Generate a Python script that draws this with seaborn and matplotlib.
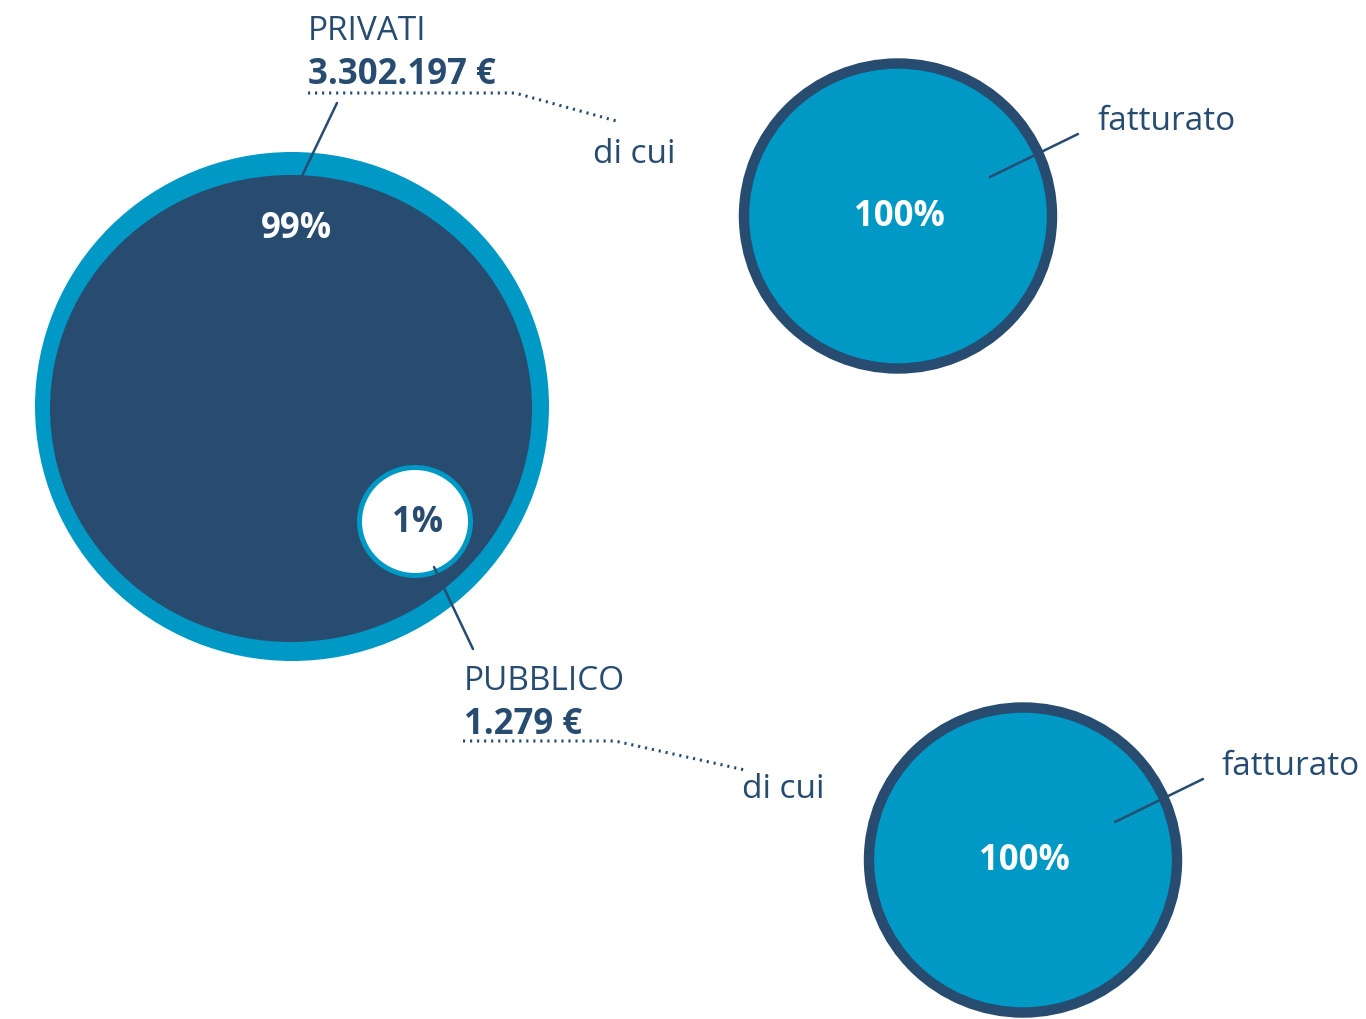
import matplotlib
matplotlib.use('Agg')
import matplotlib.pyplot as plt
from matplotlib.patches import Ellipse
import seaborn as sns

# data read from the infographic
segments = ["PRIVATI", "PUBBLICO"]
amounts = ["3.302.197 €", "1.279 €"]
shares = [99, 1]                 # share of total revenue
fatturato_shares = [100, 100]    # "di cui fatturato" per segment
sub_label = "di cui"
inner_label = "fatturato"

DARK = "#274C70"
LIGHT = "#0099C6"

sns.set_theme(style="white")
plt.rcParams['font.family'] = ['Open Sans', 'DejaVu Sans']

fig = plt.figure(figsize=(13.66, 10.19), dpi=100)
ax = fig.add_axes([0, 0, 1, 1])
ax.set_xlim(0, 1366)
ax.set_ylim(1019, 0)
ax.axis('off')

# big circle: total, split private / public
ax.add_patch(Ellipse((292, 406.5), 514, 509, facecolor=LIGHT, edgecolor='none'))
ax.add_patch(Ellipse((291, 408.5), 482, 467, facecolor=DARK, edgecolor='none'))
ax.add_patch(Ellipse((415, 521.5), 111, 108, facecolor='white', edgecolor=LIGHT, lw=3.6))

ax.text(296, 229, f"{shares[0]}%", color='white', fontsize=25, fontweight='bold',
        ha='center', va='center')
ax.text(418, 523, f"{shares[1]}%", color=DARK, fontsize=25, fontweight='bold',
        ha='center', va='center')

# "fatturato" circles
for (cx, cy), share in zip([(898, 216), (1023, 860)], fatturato_shares):
    ax.add_patch(Ellipse((cx, cy), 308, 305, facecolor=LIGHT, edgecolor=DARK, lw=7.5))
    ax.text(cx + 1, cy + 1, f"{share}%", color='white', fontsize=25, fontweight='bold',
            ha='center', va='center')

# segment labels
label_pos = [(308, 40), (464, 690)]
for (x, y), seg, amt in zip(label_pos, segments, amounts):
    ax.text(x, y, seg, color=DARK, fontsize=24, ha='left', va='baseline')
    ax.text(x, y + 44, amt, color=DARK, fontsize=25, fontweight='bold',
            ha='left', va='baseline')

# dotted underlines to "di cui"
dot_style = dict(color=DARK, lw=2.2, linestyle=(0, (0.7, 1.6)))
ax.plot([308, 515, 620], [93, 93, 122], **dot_style)
ax.plot([463, 615, 745], [741, 741, 770], **dot_style)
ax.text(593, 163, sub_label, color=DARK, fontsize=24, ha='left', va='baseline')
ax.text(742, 798, sub_label, color=DARK, fontsize=24, ha='left', va='baseline')

# leader lines
lead = dict(color=DARK, lw=1.8)
ax.plot([337, 302], [103, 176], **lead)
ax.plot([434, 473], [567, 649], **lead)
ax.plot([990, 1078], [177, 134], **lead)
ax.plot([1115, 1203], [822, 779], **lead)
ax.text(1098, 130, inner_label, color=DARK, fontsize=24, ha='left', va='baseline')
ax.text(1222, 775, inner_label, color=DARK, fontsize=24, ha='left', va='baseline')

fig.savefig('out.png', dpi=100)
